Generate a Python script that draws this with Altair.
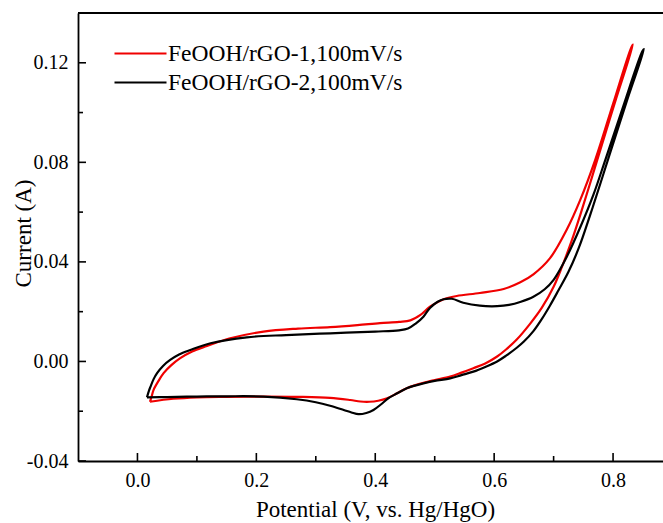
import altair as alt
import pandas as pd

# ---- data (potential in V, current in A) ----
series_names = ["FeOOH/rGO-1,100mV/s", "FeOOH/rGO-2,100mV/s"]
series_colors = ["#f00000", "#000000"]

red_V = [0.021, 0.024, 0.027, 0.035, 0.044, 0.057, 0.072, 0.092, 0.117, 0.156, 0.212, 0.270,
         0.324, 0.370, 0.408, 0.440, 0.459, 0.476, 0.492, 0.515, 0.537, 0.576, 0.616, 0.644,
         0.666, 0.694, 0.722, 0.745, 0.770, 0.800, 0.830, 0.8335,
         0.805, 0.776, 0.760, 0.745, 0.730, 0.714, 0.700, 0.680, 0.660, 0.638, 0.620, 0.605,
         0.585, 0.565, 0.545, 0.526, 0.500, 0.481, 0.465, 0.453, 0.435, 0.420, 0.405, 0.390,
         0.375, 0.358, 0.324, 0.270, 0.212, 0.150, 0.100, 0.060, 0.021]
red_I = [-0.0162, -0.0140, -0.0115, -0.0080, -0.0047, -0.0015, 0.0013, 0.0040, 0.0062, 0.0093, 0.0120, 0.0132,
         0.0138, 0.0146, 0.0154, 0.0159, 0.0165, 0.0187, 0.0220, 0.0250, 0.0263, 0.0275, 0.0291, 0.0318,
         0.0350, 0.0415, 0.0529, 0.0650, 0.0810, 0.1035, 0.1258, 0.1273,
         0.1055, 0.0830, 0.0705, 0.0590, 0.0482, 0.0380, 0.0300, 0.0215, 0.0150, 0.0088, 0.0048, 0.0020,
         -0.0008, -0.0027, -0.0045, -0.0061, -0.0075, -0.0086, -0.0097, -0.0108, -0.0130, -0.0148, -0.0158, -0.0162,
         -0.0161, -0.0155, -0.0146, -0.0142, -0.0141, -0.0142, -0.0144, -0.0150, -0.0162]

black_V = [0.016, 0.019, 0.022, 0.027, 0.033, 0.043, 0.055, 0.070, 0.089, 0.123, 0.184, 0.250,
           0.324, 0.400, 0.440, 0.455, 0.468, 0.481, 0.492, 0.505, 0.515, 0.529, 0.548, 0.576,
           0.605, 0.625, 0.645, 0.666, 0.685, 0.700, 0.722, 0.745, 0.767, 0.787, 0.815, 0.849, 0.852,
           0.825, 0.794, 0.778, 0.761, 0.743, 0.725, 0.708, 0.694, 0.680, 0.666, 0.650, 0.638, 0.620,
           0.605, 0.585, 0.565, 0.545, 0.526, 0.500, 0.481, 0.465, 0.453, 0.437, 0.422, 0.410,
           0.397, 0.385, 0.372, 0.360, 0.347, 0.324, 0.300, 0.268, 0.212, 0.150, 0.100, 0.050, 0.016]
black_I = [-0.0144, -0.0120, -0.0101, -0.0072, -0.0047, -0.0018, 0.0006, 0.0028, 0.0046, 0.0073, 0.0097, 0.0106,
           0.0113, 0.0120, 0.0125, 0.0132, 0.0152, 0.0180, 0.0215, 0.0240, 0.0250, 0.0252, 0.0236, 0.0224,
           0.0222, 0.0227, 0.0240, 0.0260, 0.0290, 0.0328, 0.0420, 0.0540, 0.0670, 0.0810, 0.1010, 0.1245, 0.1255,
           0.1060, 0.0830, 0.0710, 0.0585, 0.0460, 0.0360, 0.0285, 0.0225, 0.0170, 0.0122, 0.0080, 0.0055, 0.0023,
           0.0000, -0.0022, -0.0041, -0.0055, -0.0068, -0.0078, -0.0088, -0.0098, -0.0108, -0.0128, -0.0148, -0.0172,
           -0.0195, -0.0207, -0.0212, -0.0205, -0.0195, -0.0178, -0.0164, -0.0152, -0.0141, -0.0140, -0.0141, -0.0143, -0.0144]

x_major = [0.0, 0.2, 0.4, 0.6, 0.8]
x_minor = [0.1, 0.3, 0.5, 0.7]
y_major = [-0.04, 0.0, 0.04, 0.08, 0.12]
y_minor = [-0.02, 0.02, 0.06, 0.10]

X_DOMAIN = [-0.1, 0.884]
Y_DOMAIN = [-0.04, 0.14]
W, H = 585, 448
FONT = "Liberation Serif"
MINUS_FIX = "replace(datum.label, '\u2212', '-')"

rows = []
for name, vs, cs in [(series_names[0], red_V, red_I), (series_names[1], black_V, black_I)]:
    for i, (v, c) in enumerate(zip(vs, cs)):
        rows.append({"series": name, "V": v, "I": c, "idx": i})
df = pd.DataFrame(rows)

xs = alt.Scale(domain=X_DOMAIN, nice=False, zero=False)
ys = alt.Scale(domain=Y_DOMAIN, nice=False, zero=False)
color = alt.Color(
    "series:N",
    scale=alt.Scale(domain=series_names, range=series_colors),
    legend=alt.Legend(
        title=None, orient="none", legendX=35, legendY=27,
        symbolType="stroke", symbolSize=2704, symbolStrokeWidth=2.2,
        labelFont=FONT, labelFontSize=23.5, labelColor="black",
        labelOffset=0, clipHeight=27, rowPadding=2, padding=0, labelLimit=400,
    ),
)

x_axis = alt.Axis(
    values=x_major, format=".1f", ticks=False, grid=False,
    domainColor="black", domainWidth=1.8,
    labelFont=FONT, labelFontSize=20, labelColor="black",
    labelBaseline="alphabetic", labelPadding=25,
    title="Potential (V, vs. Hg/HgO)", titleFont=FONT, titleFontSize=23,
    titleFontWeight="normal", titleColor="black",
    titleX=297, titleY=55, titleBaseline="alphabetic", titleAlign="center",
)
y_axis = alt.Axis(
    values=y_major, format=".2f", labelExpr=MINUS_FIX, ticks=False, grid=False,
    domainColor="black", domainWidth=1.8,
    labelFont=FONT, labelFontSize=20, labelColor="black", labelPadding=10,
    title="Current (A)", titleFont=FONT, titleFontSize=23,
    titleFontWeight="normal", titleColor="black",
    titleX=-48, titleY=220, titleAngle=-90, titleBaseline="alphabetic", titleAlign="center",
)

def lines_for(name):
    return alt.Chart(df).transform_filter(alt.datum.series == name).mark_line(
        strokeWidth=2.2, interpolate="catmull-rom"
    ).encode(
        x=alt.X("V:Q", scale=xs, axis=x_axis),
        y=alt.Y("I:Q", scale=ys, axis=y_axis),
        color=color,
        order=alt.Order("idx:Q"),
    )

tick_style = dict(color="black", strokeWidth=1.6)
xt_major = alt.Chart(pd.DataFrame({"v": x_major})).mark_rule(**tick_style).encode(
    x=alt.X("v:Q", scale=xs), y=alt.value(H), y2=alt.value(H - 8))
xt_minor = alt.Chart(pd.DataFrame({"v": x_minor})).mark_rule(**tick_style).encode(
    x=alt.X("v:Q", scale=xs), y=alt.value(H), y2=alt.value(H - 5))
yt_major = alt.Chart(pd.DataFrame({"v": y_major})).mark_rule(**tick_style).encode(
    y=alt.Y("v:Q", scale=ys), x=alt.value(0), x2=alt.value(8))
yt_minor = alt.Chart(pd.DataFrame({"v": y_minor})).mark_rule(**tick_style).encode(
    y=alt.Y("v:Q", scale=ys), x=alt.value(0), x2=alt.value(5))
top_line = alt.Chart(pd.DataFrame({"a": [0]})).mark_rule(color="black", strokeWidth=1.8).encode(
    x=alt.value(0), x2=alt.value(W), y=alt.value(0))

chart = alt.layer(
    lines_for(series_names[0]), lines_for(series_names[1]),
    xt_major, xt_minor, yt_major, yt_minor, top_line,
).properties(
    width=W, height=H,
    autosize=alt.AutoSizeParams(type="none"),
    padding={"left": 78, "top": 13, "right": 0, "bottom": 62},
    background="white",
).configure_view(stroke=None)

chart.save("out.html", embed_options={"renderer": "svg", "actions": False})
